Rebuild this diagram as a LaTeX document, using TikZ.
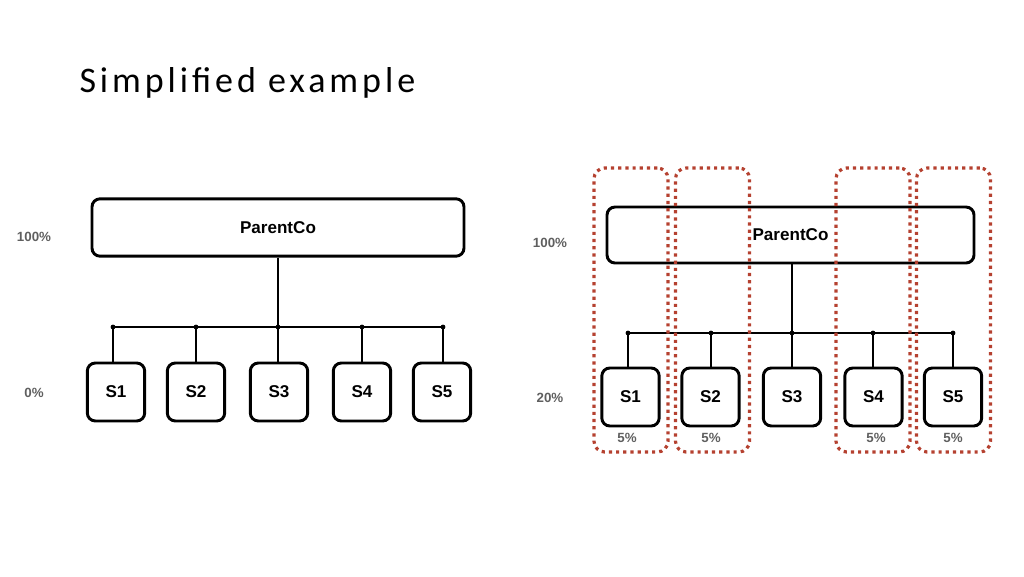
\documentclass[tikz,border=0pt]{standalone}
\usepackage{fontspec}
\setmainfont{Liberation Sans}
\newfontfamily\titlefont[LetterSpace=11]{Carlito}
\definecolor{grpred}{RGB}{181,65,48}
\definecolor{pctgray}{RGB}{95,95,95}
\tikzset{every picture/.style={line width=0.75pt}}

\begin{document}
\begin{tikzpicture}[x=0.75pt,y=0.75pt,yscale=-1,xscale=1,
		parentbox/.style={draw, line width=2.2pt, rounded corners=6pt, minimum height=43pt, inner sep=0pt, font=\fontsize{12.8}{15}\selectfont\bfseries},
		subbox/.style={draw, line width=2.2pt, rounded corners=6pt, minimum width=43pt, minimum height=43.5pt, inner sep=0pt, font=\fontsize{12.8}{15}\selectfont\bfseries},
		pct/.style={inner sep=0.75pt, text=pctgray, font=\fontsize{10}{12}\selectfont\bfseries},
		bus/.style={line width=2.2pt},
		grpbox/.style={draw=grpred, line width=2.4pt, dash pattern=on 2.4pt off 3pt, rounded corners=8pt, minimum width=55.5pt, minimum height=213pt, inner sep=0pt}]
	\useasboundingbox (0,0) rectangle (1024,576);
	
	\draw (79,92.5) node [anchor=base west][inner sep=0pt] [font=\titlefont\fontsize{27}{32}\selectfont] {Simplified example};
	
	% left: all owned by ParentCo
	\node [parentbox, minimum width=279pt] (lp) at (278,227.5) {ParentCo};
	\node [subbox] (ls1) at (116,392) {S1};
	\node [subbox] (ls2) at (196,392) {S2};
	\node [subbox] (ls3) at (279,392) {S3};
	\node [subbox] (ls4) at (362,392) {S4};
	\node [subbox] (ls5) at (442,392) {S5};
	
	\coordinate (lb1) at (113,327);
	\coordinate (lb2) at (196,327);
	\coordinate (lb3) at (278,327);
	\coordinate (lb4) at (362,327);
	\coordinate (lb5) at (443,327);
	
	\draw [bus] (lb1) -- (lb5);
	\draw [bus] (lp.south -| lb3) -- (lb3);
	\foreach \i in {1,...,5} {
		\draw [bus] (lb\i) -- (lb\i |- ls\i.north);
		\fill (lb\i) circle (2.4);
	}
	
	\node [pct] (lpa) at (34,237) {100\%};
	\node [pct] (lpb) at (34,393) {0\%};
	
	% right: 20% held by minorities
	\node [parentbox, minimum width=275.25pt, minimum height=42pt] (rp) at (790.5,235) {ParentCo};
	\node [subbox] (rs1) at (630.5,397) {S1};
	\node [subbox] (rs2) at (710.5,397) {S2};
	\node [subbox] (rs3) at (792,397) {S3};
	\node [subbox] (rs4) at (873.5,397) {S4};
	\node [subbox] (rs5) at (953,397) {S5};
	
	\coordinate (rb1) at (628,333);
	\coordinate (rb2) at (711,333);
	\coordinate (rb3) at (792,333);
	\coordinate (rb4) at (873,333);
	\coordinate (rb5) at (953,333);
	
	\draw [bus] (rb1) -- (rb5);
	\draw [bus] (rp.south -| rb3) -- (rb3);
	\foreach \i in {1,...,5} {
		\draw [bus] (rb\i) -- (rb\i |- rs\i.north);
		\fill (rb\i) circle (2.4);
	}
	
	\node [pct] (rpa) at (550,243) {100\%};
	\node [pct] (rpb) at (550,398) {20\%};
	\node [pct] (rq1) at (627,438) {5\%};
	\node [pct] (rq2) at (711,438) {5\%};
	\node [pct] (rq4) at (876,438) {5\%};
	\node [pct] (rq5) at (953,438) {5\%};
	
	\node [grpbox] (g1) at (631,310) {};
	\node [grpbox] (g2) at (712.5,310) {};
	\node [grpbox] (g4) at (873,310) {};
	\node [grpbox] (g5) at (953.5,310) {};
	
\end{tikzpicture}
\end{document}
